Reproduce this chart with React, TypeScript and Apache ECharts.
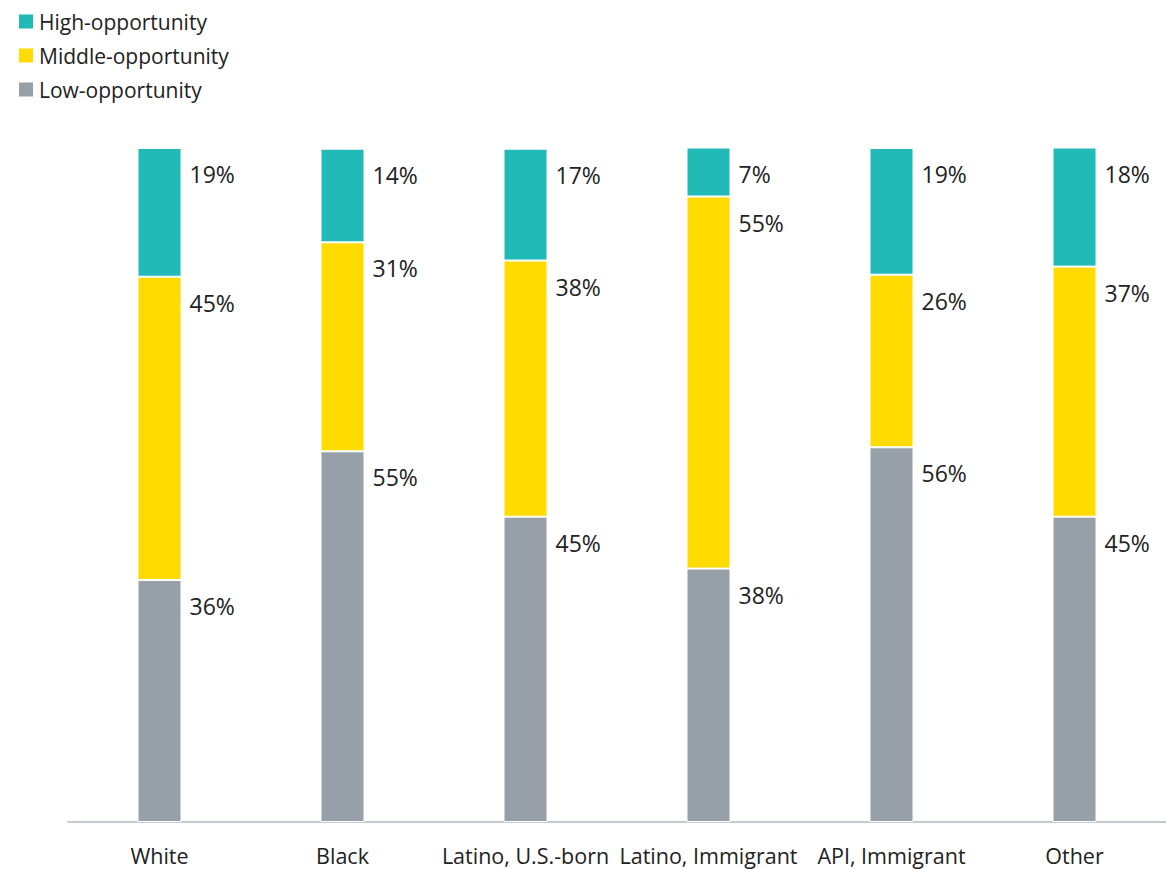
import React, { useEffect, useRef } from "react";
import * as echarts from "echarts";

const categories = ["White", "Black", "Latino, U.S.-born", "Latino, Immigrant", "API, Immigrant", "Other"];
const lowValues = [35.9, 55.0, 45.3, 37.6, 55.6, 45.3];
const middleValues = [45.0, 31.0, 38.0, 55.2, 25.6, 37.1];
const highValues = [19.1, 13.9, 16.6, 7.3, 18.8, 17.7];
const seriesNames = ["High-opportunity", "Middle-opportunity", "Low-opportunity"];

const FONT = "'Open Sans', sans-serif";

export default function App() {
  const ref = useRef<HTMLDivElement>(null);
  useEffect(() => {
    if (!ref.current) return;
    const chart = echarts.init(ref.current, null, { renderer: "svg" });
    const label = {
      show: true,
      position: ["100%", 0],
      offset: [8, 26],
      align: "left",
      verticalAlign: "middle",
      fontFamily: FONT,
      fontSize: 23,
      color: "#222",
      formatter: (p: any) => Math.round(p.value) + "%",
    };
    const mk = (name: string, data: number[], color: string) => ({
      name,
      type: "bar",
      stack: "total",
      barWidth: 44,
      data,
      itemStyle: { color, borderColor: "#fff", borderWidth: 1 },
      label,
    });
    chart.setOption({
      animation: false,
      textStyle: { fontFamily: FONT },
      legend: {
        data: seriesNames,
        orient: "vertical",
        left: 12,
        top: 6,
        itemWidth: 16,
        itemHeight: 16,
        itemGap: 13,
        icon: "rect",
        textStyle: { fontFamily: FONT, fontSize: 21, color: "#222", lineHeight: 20 },
      },
      grid: { left: 68, right: 0, top: 148, bottom: 47 },
      xAxis: {
        type: "category",
        data: categories,
        axisLine: { lineStyle: { color: "#c3cad0", width: 2 } },
        axisTick: { show: false },
        axisLabel: { fontFamily: FONT, fontSize: 21.5, color: "#222", margin: 22, interval: 0 },
      },
      yAxis: { type: "value", min: 0, max: 100, show: false, splitLine: { show: false } },
      series: [
        mk(seriesNames[2], lowValues, "#97a0a8"),
        mk(seriesNames[1], middleValues, "#ffdb00"),
        mk(seriesNames[0], highValues, "#22bab6"),
      ],
    });
    return () => chart.dispose();
  }, []);
  return <div ref={ref} style={{ position: "absolute", left: 0, top: 0, width: 1166, height: 869 }} />;
}
